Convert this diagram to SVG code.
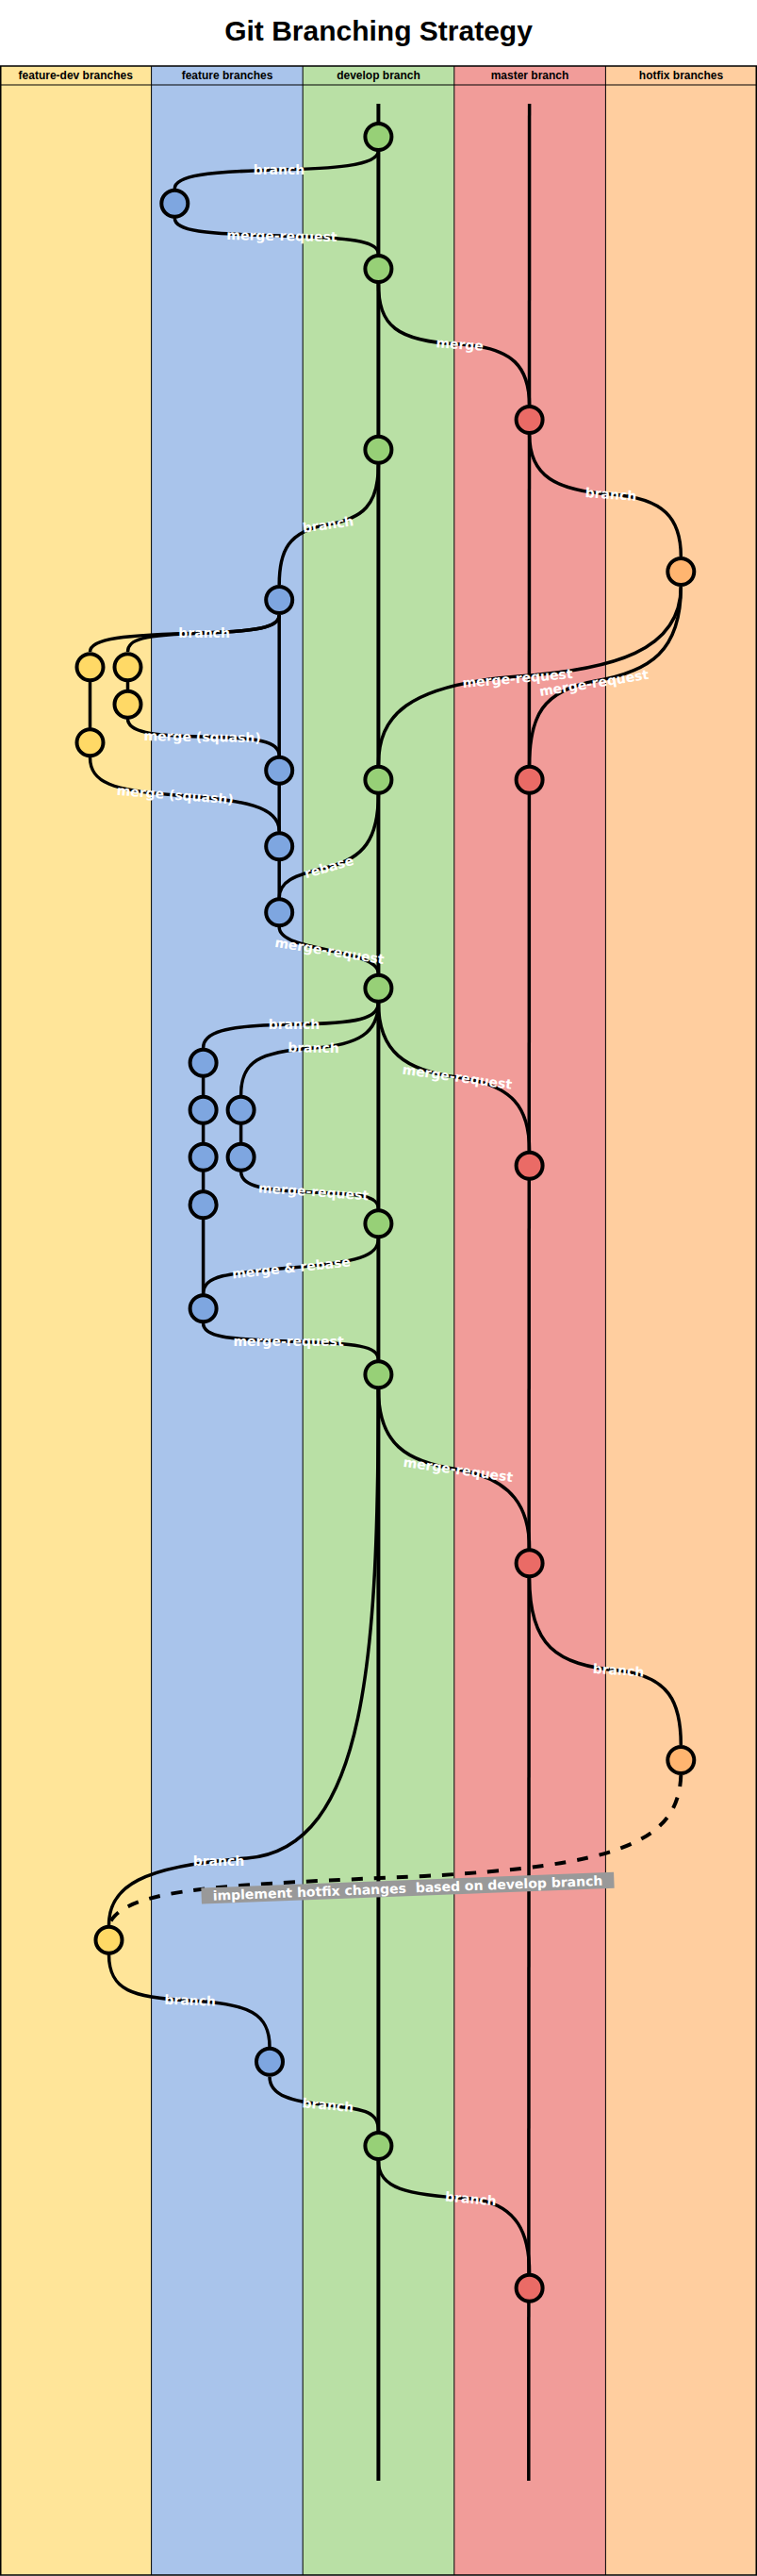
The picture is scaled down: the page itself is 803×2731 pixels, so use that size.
<svg xmlns="http://www.w3.org/2000/svg" width="803" height="2731" viewBox="0 0 803 2731">
<style>
.title{font-family:"Liberation Sans",Arial,sans-serif;font-weight:bold;font-size:30px;fill:#000;text-anchor:middle}
.hdr{font-family:"Liberation Sans",Arial,sans-serif;font-weight:bold;font-size:12px;fill:#000;text-anchor:middle}
.lbl{font-family:"DejaVu Sans",Verdana,sans-serif;font-weight:bold;font-size:14px;fill:#fff;text-anchor:middle}
.sep{stroke:#000;stroke-width:1;fill:none}
.main{stroke:#000;stroke-width:4;fill:none}
.mast{stroke:#000;stroke-width:3.5;fill:none}
.c{stroke:#000;stroke-width:3.5;fill:none}
.dash{stroke:#000;stroke-width:4;fill:none;stroke-dasharray:12 12}
.n{stroke:#000;stroke-width:4}
.ng{fill:#97D077}.nb{fill:#7EA6E0}.nr{fill:#EA6B66}.ny{fill:#FFD966}.no{fill:#FFB570}
</style>
<rect x="0" y="0" width="803" height="2731" fill="#fff"/>
<text class="title" x="401.5" y="43">Git Branching Strategy</text>
<g id="lanes">
<rect x="0.5" y="70" width="160.1" height="2660" fill="#FFE599"/>
<rect x="160.6" y="70" width="160.6" height="2660" fill="#A9C4EB"/>
<rect x="321.2" y="70" width="160.6" height="2660" fill="#B9E0A5"/>
<rect x="481.8" y="70" width="160.6" height="2660" fill="#F19C99"/>
<rect x="642.4" y="70" width="160.1" height="2660" fill="#FFCE9F"/>
<line class="sep" x1="160.6" y1="70" x2="160.6" y2="2730"/>
<line class="sep" x1="321.2" y1="70" x2="321.2" y2="2730"/>
<line class="sep" x1="481.8" y1="70" x2="481.8" y2="2730"/>
<line class="sep" x1="642.4" y1="70" x2="642.4" y2="2730"/>
<line class="sep" x1="0.5" y1="90" x2="802.5" y2="90"/>
<rect x="0.75" y="70" width="801.5" height="2660" fill="none" stroke="#000" stroke-width="1.5"/>
<text class="hdr" x="80.3" y="84">feature-dev branches</text>
<text class="hdr" x="241" y="84">feature branches</text>
<text class="hdr" x="401.5" y="84">develop branch</text>
<text class="hdr" x="562" y="84">master branch</text>
<text class="hdr" x="722.5" y="84">hotfix branches</text>
</g>
<g id="connectors">
<line class="main" x1="401.4" y1="110" x2="401.4" y2="2630"/>
<line class="mast" x1="561.6" y1="110" x2="560.8" y2="2630"/>
<line class="c" x1="296.2" y1="652" x2="296.2" y2="952"/>
<line class="c" x1="215.6" y1="1127" x2="215.6" y2="1372"/>
<line class="c" x1="255.6" y1="1177" x2="255.6" y2="1227"/>
<line class="c" x1="95.5" y1="707" x2="95.5" y2="787"/>
<line class="c" x1="135.5" y1="707" x2="135.5" y2="747"/>
<path class="c" d="M401.4,160 C401.4,176 350,179 296,180 C220,182 185.3,186 185.3,200"/>
<path class="c" d="M185.3,231 C185.3,245 215,248 299,250 C370,252 401.4,255 401.4,269"/>
<path class="c" d="M401.4,300 C401.4,345 420,362 487.7,365 C545,368 561.6,390 561.6,430"/>
<path class="c" d="M561.6,461 C561.6,505 590,520 648,524 C705,528 722.3,550 722.3,590"/>
<path class="c" d="M401.4,493 C401.4,535 385,550 348,556 C305,563 296.2,585 296.2,620"/>
<path class="c" d="M296.2,652 C296.2,666 270,669 216.6,671 C130,673 95.5,677 95.5,691"/>
<path class="c" d="M296.2,652 C296.2,666 270,669 216.6,671 C150,673 135.5,678 135.5,691"/>
<path class="c" d="M135.5,762 C135.5,776 160,780 214.6,781 C275,782 296.2,786 296.2,801"/>
<path class="c" d="M95.5,803 C95.5,830 120,838 185.8,843 C260,848 296.2,855 296.2,881"/>
<path class="c" d="M722.3,622 C722.3,690 650,710 550,717 C430,726 401.4,760 401.4,811"/>
<path class="c" d="M722.3,622 C722.3,690 690,712 631.4,722 C575,732 561.6,760 561.6,811"/>
<path class="c" d="M401.4,842 C401.4,890 385,910 349,919 C310,928 296.2,935 296.2,952"/>
<path class="c" d="M296.2,983 C296.2,1010 401.4,1005 401.4,1032"/>
<path class="c" d="M401.4,1063 C401.4,1080 380,1085 312,1086 C235,1087 215.6,1095 215.6,1111"/>
<path class="c" d="M401.4,1063 C401.4,1095 380,1108 332.6,1111 C275,1115 255.6,1125 255.6,1161"/>
<path class="c" d="M401.4,1063 C401.4,1115 430,1135 485,1142 C545,1150 561.6,1175 561.6,1220"/>
<path class="c" d="M255.6,1242 C255.6,1258 280,1262 332.6,1264 C385,1266 401.4,1268 401.4,1282"/>
<path class="c" d="M401.4,1313 C401.4,1332 380,1338 309,1344 C240,1350 215.6,1352 215.6,1372"/>
<path class="c" d="M215.6,1403 C215.6,1417 240,1420 306,1422 C380,1424 401.4,1427 401.4,1442"/>
<path class="c" d="M401.4,1473 C401.4,1530 430,1550 486,1558 C545,1568 561.6,1600 561.6,1642"/>
<path class="c" d="M561.6,1673 C561.6,1745 590,1765 656,1771 C710,1777 722.3,1805 722.3,1850"/>
<path class="c" d="M401.4,1473 C401,1750 390,1960 262,1970 C150,1978 115.5,2000 115.5,2041"/>
<path class="dash" d="M722.3,1882 C720,1955 650,1978 450,1989 C250,1998 130,2000 115.5,2041"/>
<path class="c" d="M115.5,2072 C115.5,2110 140,2118 201.7,2121 C265,2124 286,2135 286,2170"/>
<path class="c" d="M286,2201.7 C286,2222 310,2228 348,2232 C390,2236 401.4,2240 401.4,2259"/>
<path class="c" d="M401.4,2291 C401.4,2320 430,2327 499.5,2331 C550,2336 561.6,2370 561.6,2410"/>
<g id="edge-labels">
<text class="lbl" x="296" y="185">branch</text>
<text class="lbl" x="299" y="255" transform="rotate(1 299 250)">merge-request</text>
<text class="lbl" x="487.7" y="370" transform="rotate(4 487.7 365)">merge</text>
<text class="lbl" x="648" y="529" transform="rotate(4 648 524)">branch</text>
<text class="lbl" x="348" y="561" transform="rotate(-8 348 556)">branch</text>
<text class="lbl" x="216.6" y="675.7">branch</text>
<text class="lbl" x="214.6" y="786" transform="rotate(1 214.6 781)">merge (squash)</text>
<text class="lbl" x="185.8" y="847.7" transform="rotate(4.5 185.8 842.7)">merge (squash)</text>
<text class="lbl" x="549" y="724" transform="rotate(-5 549 719)">merge-request</text>
<text class="lbl" x="630" y="729" transform="rotate(-9 630 724)">merge-request</text>
<text class="lbl" x="349" y="924" transform="rotate(-16 349 919)">rebase</text>
<text class="lbl" x="349.6" y="1013" transform="rotate(9 349.6 1008)">merge-request</text>
<text class="lbl" x="312" y="1090.7">branch</text>
<text class="lbl" x="332.6" y="1115.7" transform="rotate(1 332.6 1110.7)">branch</text>
<text class="lbl" x="485" y="1146.7" transform="rotate(8 485 1141.7)">merge-request</text>
<text class="lbl" x="332.6" y="1268.3" transform="rotate(4 332.6 1263.3)">merge-request</text>
<text class="lbl" x="309" y="1349" transform="rotate(-6 309 1344)">merge &amp; rebase</text>
<text class="lbl" x="306" y="1427.3">merge-request</text>
<text class="lbl" x="486" y="1563" transform="rotate(8 486 1558)">merge-request</text>
<text class="lbl" x="656" y="1775.7" transform="rotate(4 656 1770.7)">branch</text>
<text class="lbl" x="232" y="1977.7">branch</text>
<g transform="rotate(-2.2 432.5 2001.7)">
<rect x="213.5" y="1993.2" width="438" height="17" fill="#999999"/>
<text class="lbl" x="432.5" y="2006.7" xml:space="preserve">implement hotfix changes  based on develop branch</text>
</g>
<text class="lbl" x="201.7" y="2125.7" transform="rotate(2 201.7 2120.7)">branch</text>
<text class="lbl" x="348" y="2236.7" transform="rotate(5 348 2231.7)">branch</text>
<text class="lbl" x="499.5" y="2336" transform="rotate(5 499.5 2331)">branch</text>
</g>
</g>
<g id="n-d1"><circle class="n ng" cx="401.4" cy="145" r="14"/></g>
<g id="n-f1"><circle class="n nb" cx="185.3" cy="215.7" r="14"/></g>
<g id="n-d2"><circle class="n ng" cx="401.4" cy="285" r="14"/></g>
<g id="n-m1"><circle class="n nr" cx="561.6" cy="445" r="14"/></g>
<g id="n-d3"><circle class="n ng" cx="401.4" cy="476.7" r="14"/></g>
<g id="n-h1"><circle class="n no" cx="722.3" cy="606" r="14"/></g>
<g id="n-f2"><circle class="n nb" cx="296.2" cy="636" r="14"/></g>
<g id="n-y1"><circle class="n ny" cx="95.5" cy="707.3" r="14"/></g>
<g id="n-y2"><circle class="n ny" cx="135.5" cy="707.3" r="14"/></g>
<g id="n-y3"><circle class="n ny" cx="135.5" cy="746.7" r="14"/></g>
<g id="n-y4"><circle class="n ny" cx="95.5" cy="787.3" r="14"/></g>
<g id="n-f3"><circle class="n nb" cx="296.2" cy="816.7" r="14"/></g>
<g id="n-d4"><circle class="n ng" cx="401.4" cy="826.7" r="14"/></g>
<g id="n-m2"><circle class="n nr" cx="561.6" cy="826.7" r="14"/></g>
<g id="n-f4"><circle class="n nb" cx="296.2" cy="897.3" r="14"/></g>
<g id="n-f5"><circle class="n nb" cx="296.2" cy="967.3" r="14"/></g>
<g id="n-d5"><circle class="n ng" cx="401.4" cy="1047.7" r="14"/></g>
<g id="n-f6"><circle class="n nb" cx="215.6" cy="1126.7" r="14"/></g>
<g id="n-f7"><circle class="n nb" cx="215.6" cy="1176.7" r="14"/></g>
<g id="n-f8"><circle class="n nb" cx="255.6" cy="1176.7" r="14"/></g>
<g id="n-f9"><circle class="n nb" cx="215.6" cy="1226.7" r="14"/></g>
<g id="n-f10"><circle class="n nb" cx="255.6" cy="1226.7" r="14"/></g>
<g id="n-m3"><circle class="n nr" cx="561.6" cy="1235.7" r="14"/></g>
<g id="n-f11"><circle class="n nb" cx="215.6" cy="1277.3" r="14"/></g>
<g id="n-d6"><circle class="n ng" cx="401.4" cy="1297.3" r="14"/></g>
<g id="n-f12"><circle class="n nb" cx="215.6" cy="1387.3" r="14"/></g>
<g id="n-d7"><circle class="n ng" cx="401.4" cy="1457.3" r="14"/></g>
<g id="n-m4"><circle class="n nr" cx="561.6" cy="1657.3" r="14"/></g>
<g id="n-h2"><circle class="n no" cx="722.3" cy="1866" r="14"/></g>
<g id="n-y5"><circle class="n ny" cx="115.5" cy="2056.7" r="14"/></g>
<g id="n-f13"><circle class="n nb" cx="286" cy="2185.7" r="14"/></g>
<g id="n-d8"><circle class="n ng" cx="401.4" cy="2275" r="14"/></g>
<g id="n-m5"><circle class="n nr" cx="561.6" cy="2425.7" r="14"/></g>
</svg>
